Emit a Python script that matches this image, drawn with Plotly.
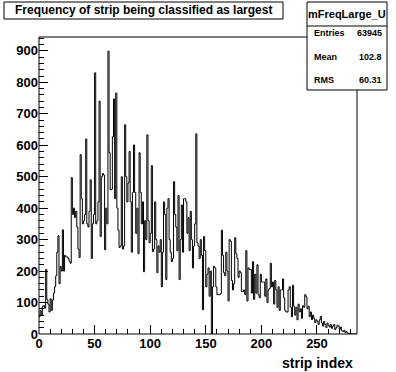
import numpy as np
import plotly.graph_objects as go

# ---- data ----
counts = [
    55, 75, 60, 88, 90, 82, 205, 110, 95, 70,
    112, 75, 108, 130, 150, 185, 260, 312, 160, 215,
    200, 331, 200, 250, 245, 245, 240, 232, 225, 497,
    380, 400, 370, 390, 340, 270, 243, 570, 430, 350,
    360, 380, 620, 350, 340, 390, 490, 240, 350, 380,
    830, 350, 360, 420, 740, 310, 500, 510, 505, 268,
    400, 350, 899, 576, 458, 460, 627, 747, 430, 766,
    400, 330, 275, 280, 500, 270, 280, 665, 500, 420,
    480, 580, 420, 260, 450, 601, 450, 320, 400, 255,
    576, 450, 350, 420, 198, 360, 300, 633, 360, 290,
    320, 535, 262, 270, 420, 300, 195, 280, 260, 300,
    150, 260, 420, 380, 173, 400, 430, 300, 260, 230,
    240, 484, 380, 340, 265, 440, 173, 300, 410, 260,
    430, 430, 420, 320, 370, 265, 390, 300, 210, 280,
    350, 636, 290, 280, 240, 300, 250, 77, 310, 265,
    150, 190, 210, 120, 200, 0, 150, 215, 210, 150,
    125, 125, 125, 128, 330, 250, 195, 185, 260, 200,
    105, 300, 295, 170, 140, 160, 306, 255, 240, 180,
    200, 195, 135, 135, 140, 125, 265, 105, 210, 205,
    205, 130, 230, 110, 190, 130, 220, 125, 115, 190,
    165, 165, 165, 120, 175, 100, 140, 145, 225, 150,
    165, 95, 170, 140, 85, 150, 75, 140, 140, 175,
    115, 75, 70, 70, 140, 150, 85, 55, 155, 88,
    60, 85, 45, 95, 70, 80, 50, 90, 85, 125,
    118, 80, 88, 55, 70, 46, 60, 50, 36, 45,
    40, 30, 45, 56, 35, 25, 40, 30, 20, 35,
    28, 22, 30, 18, 25, 30, 14, 20, 28, 25,
    15, 22, 10, 8, 12, 5, 8, 3, 2, 0,
    0, 0, 0, 0, 0, 0,
]
x_min, x_max = 0, 286
y_max = 944
title_text = "Frequency of strip being classified as largest"
hist_name = "mFreqLarge_U"
stat_labels = ["Entries", "Mean", "RMS"]
stat_values = ["63945", "102.8", "60.31"]
x_title = "strip index"
x_ticks = [0, 50, 100, 150, 200, 250]
y_ticks = [0, 100, 200, 300, 400, 500, 600, 700, 800, 900]

# ---- figure ----
n = len(counts)
edges = np.arange(n + 1) * (x_max - x_min) / n + x_min
yvals = list(counts) + [counts[-1]]

FONT = "Liberation Sans, Arial, sans-serif"
fig = go.Figure()
fig.add_trace(go.Scatter(
    x=edges, y=yvals, mode="lines", line=dict(color="black", width=1, shape="hv"),
    hoverinfo="skip", showlegend=False,
))

W, H = 396, 372
L, R, T, B = 39, 39, 37, 38
pw, ph = W - L - R, H - T - B

def px(xp):
    return (xp - L) / pw

def py(yp):
    return (H - B - yp) / ph

shapes = [
    # frame
    dict(type="rect", xref="paper", yref="paper", x0=0, x1=1, y0=0, y1=1,
         line=dict(color="black", width=1), layer="above"),
    # title box
    dict(type="rect", xref="paper", yref="paper", x0=px(4), x1=px(283), y0=py(19), y1=py(2),
         line=dict(color="black", width=1), fillcolor="white", layer="above"),
    # stats box
    dict(type="rect", xref="paper", yref="paper", x0=px(307), x1=px(387), y0=py(90), y1=py(2),
         line=dict(color="black", width=1), fillcolor="white", layer="above"),
    dict(type="line", xref="paper", yref="paper", x0=px(307), x1=px(387), y0=py(26), y1=py(26),
         line=dict(color="black", width=1), layer="above"),
]

ann = [
    dict(text="<b>%s</b>" % title_text, x=px(143.5), y=py(10.5), xref="paper", yref="paper",
         xanchor="center", yanchor="middle", showarrow=False, font=dict(family=FONT, size=12, color="black")),
    dict(text="<b>%s</b>" % hist_name, x=px(347), y=py(14), xref="paper", yref="paper",
         xanchor="center", yanchor="middle", showarrow=False, font=dict(family=FONT, size=11, color="black")),
    dict(text="<b>%s</b>" % x_title, x=px(355), y=py(363), xref="paper", yref="paper",
         xanchor="right", yanchor="middle", showarrow=False, font=dict(family=FONT, size=14, color="black")),
]
rows_y = [33, 57, 80]
for lab, val, yy in zip(stat_labels, stat_values, rows_y):
    ann.append(dict(text="<b>%s</b>" % lab, x=px(312), y=py(yy), xref="paper", yref="paper",
                    xanchor="left", yanchor="middle", showarrow=False,
                    font=dict(family=FONT, size=9, color="black")))
    ann.append(dict(text="<b>%s</b>" % val, x=px(384), y=py(yy), xref="paper", yref="paper",
                    xanchor="right", yanchor="middle", showarrow=False,
                    font=dict(family=FONT, size=9, color="black")))

fig.update_layout(
    width=W, height=H, margin=dict(l=L, r=R, t=T, b=B, pad=0, autoexpand=False),
    paper_bgcolor="white", plot_bgcolor="white",
    shapes=shapes, annotations=ann, showlegend=False,
    xaxis=dict(range=[x_min, x_max], tickvals=x_ticks, ticktext=[str(v) for v in x_ticks],
               ticks="inside", ticklen=9, tickwidth=1, tickcolor="black",
               minor=dict(ticks="inside", ticklen=5, dtick=10, tickcolor="black", tickwidth=1),
               showgrid=False, zeroline=False, showline=False, automargin=False,
               tickfont=dict(family=FONT, size=13, color="black", weight="bold")),
    yaxis=dict(range=[0, y_max], tickvals=y_ticks, ticktext=[str(v) for v in y_ticks],
               ticks="inside", ticklen=9, tickwidth=1, tickcolor="black",
               minor=dict(ticks="inside", ticklen=5, dtick=20, tickcolor="black", tickwidth=1),
               showgrid=False, zeroline=False, showline=False, automargin=False,
               tickfont=dict(family=FONT, size=13, color="black", weight="bold")),
)

fig.write_html("out.html", config={"displayModeBar": False},
               post_script="document.body.style.margin='0';document.body.style.overflow='hidden';")
